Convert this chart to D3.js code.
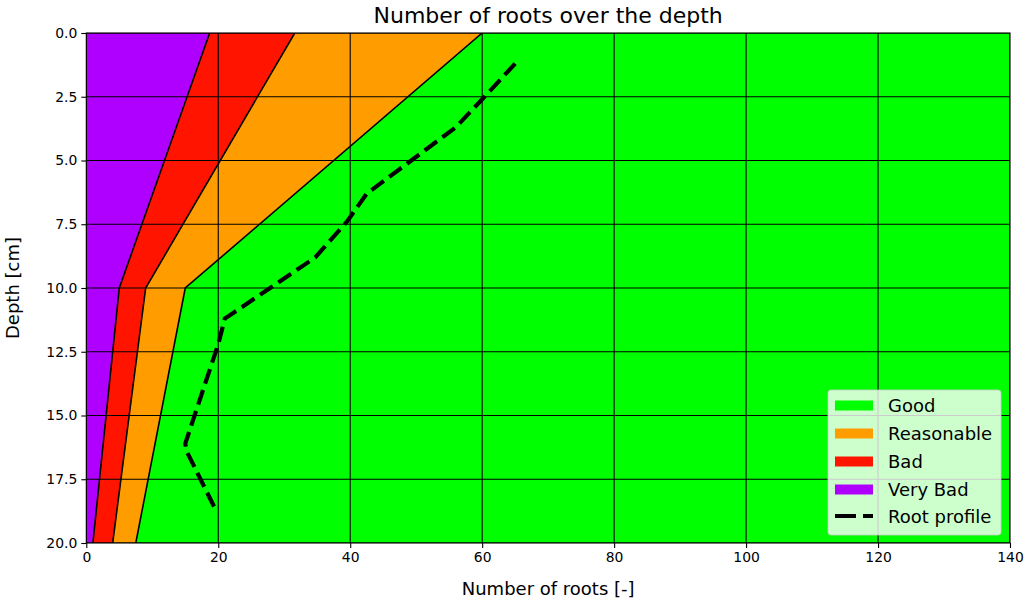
<!DOCTYPE html>
<html><head><meta charset="utf-8">
<script src="https://cdn.jsdelivr.net/npm/d3@7"></script>
<style>
body{margin:0;background:#fff;}
text{font-family:"DejaVu Sans",sans-serif;fill:#000;}
</style></head>
<body>
<svg id="c" width="1027" height="601"></svg>
<script>
// Data
const depths = [0, 10, 20];
const veryBadLimit = [18.7, 5, 1];
const badLimit = [31.6, 9, 4];
const reasonableLimit = [60, 15, 7.5];
const rootDepth = [1.2, 2.6, 3.7, 6.3, 7.4, 8.8, 11.2, 12.2, 16.1, 16.4, 18.8];
const rootCount = [65, 60, 56, 42.5, 39.5, 34.7, 21, 20, 15, 15.2, 19.8];
const xTicks = [0, 20, 40, 60, 80, 100, 120, 140];
const yTicks = [0, 2.5, 5, 7.5, 10, 12.5, 15, 17.5, 20];
const categories = ["Good", "Reasonable", "Bad", "Very Bad"];
const colors = {"Good":"#00ff00","Reasonable":"#ff9c00","Bad":"#ff1400","Very Bad":"#af00ff"};

const svg = d3.select("#c");
const L=86.3, R=1010, T=33, B=543;
const x = d3.scaleLinear().domain([0,140]).range([L,R]);
const y = d3.scaleLinear().domain([0,20]).range([T,B]);

svg.append("clipPath").attr("id","pc").append("rect")
  .attr("x",L).attr("y",T).attr("width",R-L).attr("height",B-T);
const g = svg.append("g").attr("clip-path","url(#pc)");

const zeros = depths.map(()=>0), maxs = depths.map(()=>140);
const bands = [
  {name:"Very Bad", lo:zeros, hi:veryBadLimit},
  {name:"Bad", lo:veryBadLimit, hi:badLimit},
  {name:"Reasonable", lo:badLimit, hi:reasonableLimit},
  {name:"Good", lo:reasonableLimit, hi:maxs}
];
const area = d3.area().y(d=>y(d.d)).x0(d=>x(d.lo)).x1(d=>x(d.hi));
bands.forEach(b=>{
  const pts = depths.map((d,i)=>({d, lo:b.lo[i], hi:b.hi[i]}));
  g.append("path").attr("d",area(pts)).attr("fill",colors[b.name]).attr("stroke","none");
});
const bline = d3.line().x(d=>x(d[0])).y(d=>y(d[1]));
[veryBadLimit,badLimit,reasonableLimit].forEach(arr=>{
  g.append("path").attr("d",bline(depths.map((d,i)=>[arr[i],d])))
   .attr("fill","none").attr("stroke","#000").attr("stroke-width",1.6);
});
xTicks.forEach(t=>g.append("line").attr("x1",x(t)).attr("x2",x(t)).attr("y1",T).attr("y2",B)
  .attr("stroke","#000").attr("stroke-width",1.1));
yTicks.forEach(t=>g.append("line").attr("y1",y(t)).attr("y2",y(t)).attr("x1",L).attr("x2",R)
  .attr("stroke","#000").attr("stroke-width",1.1));
g.append("path").attr("d",bline(rootDepth.map((d,i)=>[rootCount[i],d])))
  .attr("fill","none").attr("stroke","#000").attr("stroke-width",4.2)
  .attr("stroke-dasharray","15.4,6.7");

svg.append("rect").attr("x",L).attr("y",T).attr("width",R-L).attr("height",B-T)
  .attr("fill","none").attr("stroke","#000").attr("stroke-width",1.1);

const xa = svg.append("g").attr("transform",`translate(0,${B})`)
  .call(d3.axisBottom(x).tickValues(xTicks).tickFormat(d3.format("d")).tickSize(5).tickPadding(4));
const ya = svg.append("g").attr("transform",`translate(${L},0)`)
  .call(d3.axisLeft(y).tickValues(yTicks).tickFormat(d3.format(".1f")).tickSize(5).tickPadding(4));
[xa,ya].forEach(a=>{
  a.select(".domain").remove();
  a.selectAll("text").style("font-family","DejaVu Sans").style("font-size","13.9px").attr("fill","#000");
  a.selectAll("line").attr("stroke","#000").attr("stroke-width",1.1);
});

svg.append("text").attr("x",(L+R)/2).attr("y",23).attr("text-anchor","middle")
  .style("font-size","22px").text("Number of roots over the depth");
svg.append("text").attr("x",(L+R)/2).attr("y",595).attr("text-anchor","middle")
  .style("font-size","18px").text("Number of roots [-]");
svg.append("text").attr("transform",`translate(19,${(T+B)/2}) rotate(-90)`).attr("text-anchor","middle")
  .style("font-size","18px").text("Depth [cm]");

const lg = svg.append("g");
lg.append("rect").attr("x",828).attr("y",390).attr("width",173).attr("height",145).attr("rx",3)
  .attr("fill","#fff").attr("fill-opacity",0.8).attr("stroke","#ccc").attr("stroke-opacity",0.8);
const rowY = [405.5, 433.5, 461.5, 489.5, 516];
categories.forEach((c,i)=>{
  lg.append("rect").attr("x",835).attr("y",rowY[i]-5).attr("width",38).attr("height",10).attr("fill",colors[c]);
  lg.append("text").attr("x",888).attr("y",rowY[i]+6.5).style("font-size","18px").text(c);
});
lg.append("line").attr("x1",835).attr("x2",873).attr("y1",rowY[4]).attr("y2",rowY[4])
  .attr("stroke","#000").attr("stroke-width",4.2).attr("stroke-dasharray","21,7");
lg.append("text").attr("x",888).attr("y",rowY[4]+6.5).style("font-size","18px").text("Root profile");
</script>
</body></html>
